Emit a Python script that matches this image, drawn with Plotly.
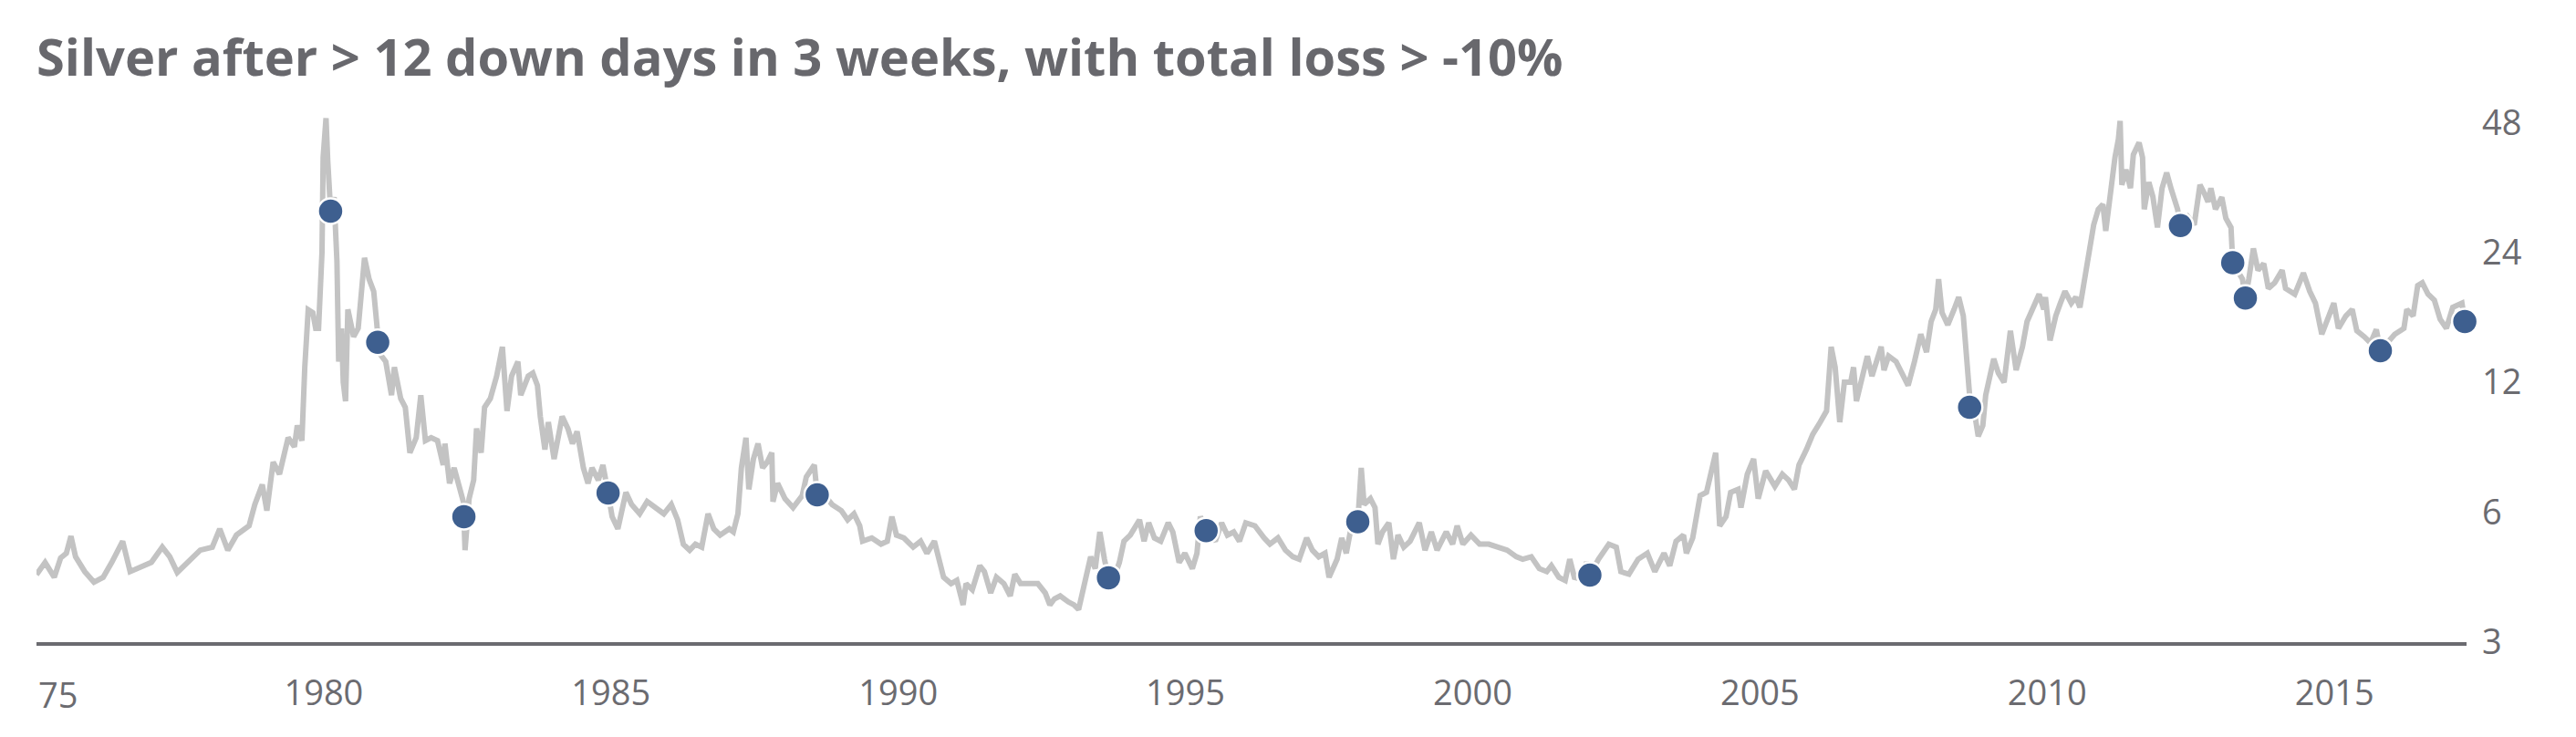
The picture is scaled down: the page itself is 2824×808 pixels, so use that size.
import math
import plotly.graph_objects as go

# ---- data ----
price_year = [
    1975.00, 1975.15, 1975.31, 1975.42, 1975.52, 1975.60, 1975.68, 1975.84, 1976.00, 1976.16,
    1976.31, 1976.50, 1976.63, 1976.84, 1977.00, 1977.19, 1977.32, 1977.45, 1977.64, 1977.85,
    1978.06, 1978.19, 1978.33, 1978.48, 1978.70, 1978.80, 1978.93, 1979.01, 1979.12, 1979.23,
    1979.38, 1979.49, 1979.54, 1979.62, 1979.67, 1979.73, 1979.81, 1979.86, 1979.91, 1979.94,
    1979.97, 1979.99, 1980.04, 1980.07, 1980.10, 1980.12, 1980.18, 1980.23, 1980.26, 1980.31,
    1980.34, 1980.38, 1980.42, 1980.47, 1980.52, 1980.60, 1980.71, 1980.79, 1980.87, 1980.92,
    1980.94, 1980.97, 1981.08, 1981.18, 1981.23, 1981.34, 1981.42, 1981.50, 1981.61, 1981.69,
    1981.77, 1981.87, 1981.98, 1982.08, 1982.11, 1982.19, 1982.27, 1982.35, 1982.43, 1982.44,
    1982.46, 1982.53, 1982.61, 1982.66, 1982.74, 1982.80, 1982.90, 1983.01, 1983.11, 1983.19,
    1983.27, 1983.38, 1983.43, 1983.56, 1983.64, 1983.72, 1983.77, 1983.85, 1983.91, 1984.01,
    1984.15, 1984.25, 1984.33, 1984.41, 1984.52, 1984.60, 1984.67, 1984.78, 1984.86, 1984.95,
    1985.02, 1985.12, 1985.26, 1985.36, 1985.50, 1985.63, 1985.76, 1985.92, 1986.05, 1986.16,
    1986.26, 1986.37, 1986.47, 1986.58, 1986.69, 1986.79, 1986.90, 1987.06, 1987.13, 1987.21,
    1987.27, 1987.35, 1987.40, 1987.48, 1987.56, 1987.64, 1987.72, 1987.80, 1987.82, 1987.90,
    1988.03, 1988.17, 1988.33, 1988.40, 1988.54, 1988.59, 1988.72, 1988.85, 1989.01, 1989.12,
    1989.23, 1989.33, 1989.38, 1989.54, 1989.70, 1989.81, 1989.89, 1989.97, 1990.10, 1990.26,
    1990.39, 1990.50, 1990.63, 1990.71, 1990.79, 1990.92, 1991.02, 1991.13, 1991.18, 1991.29,
    1991.42, 1991.50, 1991.61, 1991.71, 1991.84, 1991.95, 1992.03, 1992.13, 1992.29, 1992.43,
    1992.56, 1992.64, 1992.72, 1992.82, 1992.96, 1993.06, 1993.14, 1993.19, 1993.27, 1993.35,
    1993.43, 1993.51, 1993.59, 1993.66, 1993.72, 1993.85, 1993.93, 1994.04, 1994.20, 1994.28,
    1994.36, 1994.46, 1994.57, 1994.70, 1994.78, 1994.89, 1994.99, 1995.12, 1995.20, 1995.26,
    1995.36, 1995.52, 1995.63, 1995.73, 1995.84, 1995.94, 1996.05, 1996.21, 1996.37, 1996.47,
    1996.61, 1996.74, 1996.87, 1996.98, 1997.11, 1997.21, 1997.32, 1997.43, 1997.50, 1997.64,
    1997.72, 1997.80, 1997.88, 1998.00, 1998.06, 1998.11, 1998.22, 1998.30, 1998.35, 1998.43,
    1998.54, 1998.62, 1998.70, 1998.80, 1998.91, 1999.07, 1999.17, 1999.28, 1999.38, 1999.54,
    1999.65, 1999.73, 1999.83, 1999.97, 2000.12, 2000.28, 2000.44, 2000.60, 2000.76, 2000.87,
    2001.02, 2001.16, 2001.29, 2001.37, 2001.50, 2001.61, 2001.69, 2001.77, 2001.90, 2001.98,
    2002.04, 2002.19, 2002.37, 2002.50, 2002.58, 2002.72, 2002.88, 2003.04, 2003.17, 2003.33,
    2003.43, 2003.54, 2003.67, 2003.72, 2003.83, 2003.96, 2004.07, 2004.23, 2004.30, 2004.41,
    2004.49, 2004.62, 2004.67, 2004.78, 2004.89, 2004.97, 2005.10, 2005.26, 2005.39, 2005.50,
    2005.60, 2005.68, 2005.81, 2005.92, 2006.05, 2006.16, 2006.24, 2006.31, 2006.39, 2006.47,
    2006.58, 2006.63, 2006.68, 2006.79, 2006.87, 2006.95, 2007.11, 2007.16, 2007.24, 2007.37,
    2007.48, 2007.58, 2007.69, 2007.80, 2007.90, 2007.98, 2008.06, 2008.11, 2008.17, 2008.27,
    2008.38, 2008.46, 2008.54, 2008.59, 2008.65, 2008.72, 2008.80, 2008.88, 2008.93, 2009.07,
    2009.15, 2009.25, 2009.36, 2009.46, 2009.57, 2009.65, 2009.75, 2009.86, 2009.94, 2009.97,
    2010.05, 2010.15, 2010.23, 2010.31, 2010.42, 2010.50, 2010.57, 2010.65, 2010.73, 2010.81,
    2010.89, 2010.97, 2011.02, 2011.10, 2011.18, 2011.24, 2011.27, 2011.30, 2011.37, 2011.45,
    2011.50, 2011.60, 2011.66, 2011.69, 2011.77, 2011.84, 2011.92, 2012.00, 2012.08, 2012.16,
    2012.27, 2012.32, 2012.45, 2012.56, 2012.66, 2012.74, 2012.80, 2012.85, 2012.93, 2013.04,
    2013.11, 2013.20, 2013.23, 2013.40, 2013.45, 2013.51, 2013.59, 2013.67, 2013.77, 2013.85,
    2013.96, 2014.09, 2014.15, 2014.31, 2014.46, 2014.57, 2014.67, 2014.78, 2014.89, 2014.99,
    2015.07, 2015.20, 2015.31, 2015.39, 2015.52, 2015.63, 2015.73, 2015.80, 2016.05, 2016.21,
    2016.26, 2016.37, 2016.45, 2016.53, 2016.63, 2016.74, 2016.84, 2016.95, 2017.06, 2017.22,
    2017.27,
]
price_usd = [
    4.30, 4.59, 4.24, 4.70, 4.82, 5.28, 4.73, 4.37, 4.13, 4.24,
    4.59, 5.14, 4.37, 4.51, 4.59, 4.98, 4.73, 4.35, 4.59, 4.90,
    4.98, 5.49, 4.90, 5.31, 5.58, 6.25, 6.95, 6.05, 7.84, 7.35,
    8.93, 8.51, 9.53, 8.79, 12.98, 17.67, 17.4, 16.0, 16.0, 20.1,
    24.0, 39.8, 49.1, 39.1, 34.9, 29.9, 32.2, 22.9, 13.4, 16.0,
    12.0, 10.85, 17.7, 16.6, 15.3, 16.0, 23.3, 20.8, 19.5, 16.6,
    14.85, 14.0, 13.4, 11.2, 13.0, 11.0, 10.5, 8.24, 8.93, 11.2,
    8.79, 8.93, 8.79, 7.72, 8.65, 7.0, 7.6, 6.89, 6.35, 5.86,
    4.90, 6.45, 7.12, 9.38, 8.24, 10.5, 11.0, 12.4, 14.5, 10.3,
    12.4, 13.4, 11.2, 12.4, 12.6, 11.8, 10.0, 8.38, 9.7, 7.97,
    10.0, 9.38, 8.65, 9.23, 7.6, 7.0, 7.6, 7.12, 7.72, 6.65,
    5.86, 5.49, 6.67, 6.25, 5.95, 6.35, 6.15, 5.95, 6.25, 5.76,
    5.06, 4.90, 5.06, 4.98, 5.95, 5.49, 5.31, 5.49, 5.40, 5.95,
    7.6, 8.93, 6.78, 7.97, 8.65, 7.6, 7.84, 8.24, 6.35, 7.0,
    6.45, 6.15, 6.56, 7.24, 7.72, 6.58, 6.56, 6.25, 6.05, 5.76,
    5.95, 5.58, 5.14, 5.23, 5.06, 5.14, 5.86, 5.31, 5.23, 4.98,
    5.14, 4.82, 5.14, 4.67, 4.24, 4.10, 4.17, 3.66, 4.10, 3.97,
    4.51, 4.37, 3.90, 4.24, 4.10, 3.84, 4.31, 4.10, 4.10, 4.10,
    3.90, 3.66, 3.78, 3.84, 3.72, 3.66, 3.57, 3.84, 4.24, 4.73,
    4.44, 5.40, 4.67, 4.23, 4.10, 4.59, 5.14, 5.31, 5.76, 5.14,
    5.67, 5.23, 5.14, 5.67, 5.40, 4.59, 4.82, 4.44, 4.82, 5.86,
    5.44, 5.14, 5.67, 5.31, 5.40, 5.14, 5.67, 5.58, 5.23, 5.06,
    5.23, 4.90, 4.73, 4.67, 5.23, 4.90, 4.73, 4.82, 4.24, 4.67,
    5.23, 4.82, 5.49, 5.70, 7.6, 6.25, 6.45, 6.15, 5.06, 5.40,
    5.67, 4.67, 5.31, 4.98, 5.14, 5.67, 4.90, 5.40, 4.90, 5.40,
    5.06, 5.58, 5.06, 5.31, 5.06, 5.06, 4.98, 4.90, 4.73, 4.67,
    4.73, 4.44, 4.37, 4.51, 4.24, 4.17, 4.67, 4.24, 4.20, 4.60,
    4.29, 4.67, 5.06, 4.98, 4.37, 4.31, 4.67, 4.82, 4.37, 4.82,
    4.51, 5.14, 5.31, 4.82, 5.23, 6.56, 6.67, 8.24, 5.58, 5.86,
    6.67, 6.78, 6.15, 7.35, 7.97, 6.45, 7.48, 6.89, 7.35, 7.12,
    6.78, 7.72, 8.38, 9.09, 9.7, 10.3, 14.5, 13.0, 9.7, 12.0,
    12.0, 13.0, 10.85, 12.4, 13.8, 12.4, 14.5, 12.8, 13.8, 13.4,
    12.6, 11.8, 13.4, 15.5, 14.1, 16.6, 17.7, 20.8, 17.4, 16.3,
    17.7, 18.9, 17.1, 13.6, 11.2, 10.5, 9.0, 9.53, 11.2, 13.6,
    12.6, 12.0, 15.8, 12.8, 14.5, 16.6, 17.7, 19.2, 17.7, 18.9,
    15.0, 17.1, 18.3, 19.5, 18.3, 18.9, 17.9, 20.8, 24.5, 27.8,
    30.2, 31.0, 26.9, 33.8, 39.8, 43.9, 48.4, 34.4, 37.3, 33.8,
    40.4, 43.1, 39.8, 30.2, 34.9, 32.3, 27.4, 33.8, 36.7, 33.6,
    30.2, 27.7, 29.0, 27.8, 34.4, 32.8, 31.4, 33.8, 30.2, 32.2,
    28.8, 27.4, 22.7, 20.8, 18.8, 20.8, 24.5, 21.8, 22.6, 19.8,
    20.4, 21.8, 19.8, 19.2, 21.5, 19.5, 18.3, 15.5, 16.8, 18.3,
    16.0, 17.1, 17.7, 15.8, 15.3, 14.8, 15.9, 14.2, 15.5, 16.0,
    17.7, 17.1, 20.1, 20.4, 19.2, 18.6, 16.8, 16.0, 17.9, 18.3,
    16.6,
]

signal_year = [1980.12, 1980.94, 1982.44, 1984.95, 1988.59, 1993.66, 1995.36, 1998.00,
               2002.04, 2008.65, 2012.32, 2013.23, 2013.45, 2015.80, 2017.27]
signal_usd = [29.9, 14.85, 5.86, 6.65, 6.58, 4.23, 5.44, 5.70,
              4.29, 10.5, 27.7, 22.7, 18.8, 14.2, 16.6]

x_tick_years = [1975, 1980, 1985, 1990, 1995, 2000, 2005, 2010, 2015]
x_tick_labels = ["75", "1980", "1985", "1990", "1995", "2000", "2005", "2010", "2015"]
y_tick_values = [3, 6, 12, 24, 48]
y_tick_labels = ["3", "6", "12", "24", "48"]

title_text = "Silver after > 12 down days in 3 weeks, with total loss > -10%"

# ---- figure ----
TEXT_GRAY = "#6b6b70"

fig = go.Figure()
fig.add_trace(go.Scatter(
    x=price_year, y=price_usd, mode="lines",
    line=dict(color="#c3c3c3", width=6),
    hoverinfo="skip", showlegend=False,
))
fig.add_trace(go.Scatter(
    x=signal_year, y=signal_usd, mode="markers",
    marker=dict(color="#3e5f8f", size=28, line=dict(color="white", width=2.5)),
    cliponaxis=False,
    showlegend=False,
))

fig.update_layout(
    width=2824, height=808,
    margin=dict(l=40, r=120, t=110, b=104),
    paper_bgcolor="white", plot_bgcolor="white",
    font=dict(family="Open Sans", color=TEXT_GRAY, size=38),
    title=dict(
        text="<b>" + title_text + "</b>",
        font=dict(family="Open Sans", size=56, color="#68686d"),
        x=40 / 2824, xanchor="left", xref="container",
        y=1 - 63 / 808, yanchor="middle", yref="container",
    ),
    xaxis=dict(
        range=[1975.0, 2017.3],
        tickmode="array",
        tickvals=x_tick_years[1:], ticktext=x_tick_labels[1:],
        showgrid=False, zeroline=False,
        showline=True, linecolor="#6b6b70", linewidth=4,
        ticks="", ticklabelstandoff=19,
        tickfont=dict(family="Open Sans", size=38, color=TEXT_GRAY),
    ),
    yaxis=dict(
        type="log", side="right",
        range=[math.log10(3), math.log10(54)],
        tickmode="array", tickvals=y_tick_values, ticktext=y_tick_labels,
        showgrid=False, zeroline=False, showline=False,
        ticks="", ticklabelstandoff=16,
        tickfont=dict(family="Open Sans", size=38, color=TEXT_GRAY),
    ),
    annotations=[dict(
        x=x_tick_years[0], y=0, xref="x", yref="paper",
        text=x_tick_labels[0], showarrow=False,
        xanchor="left", yanchor="top", yshift=-29,
        font=dict(family="Open Sans", size=38, color=TEXT_GRAY),
    )],
)

fig.write_html(
    "out.html",
    config={"displayModeBar": False},
    post_script="document.body.style.margin='0px';",
)
